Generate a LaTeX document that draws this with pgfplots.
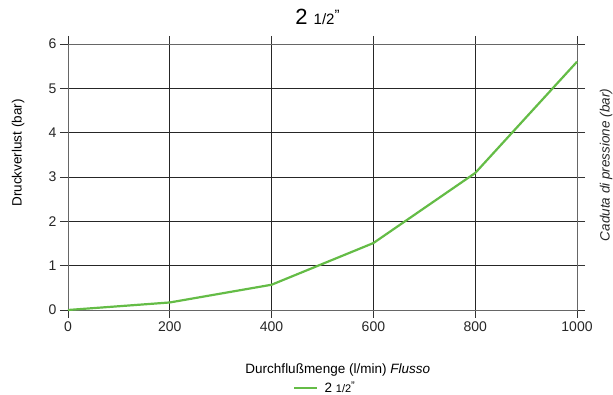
\documentclass[border=0pt]{standalone}
\usepackage{pgfplots}
\pgfplotsset{compat=1.18}
\usepackage{fontspec}
\setmainfont{Liberation Sans}
\definecolor{lgreen}{RGB}{100,188,70}
\begin{document}
\begin{tikzpicture}
\begin{axis}[
  scale only axis,
  width=509pt, height=266pt,
  xmin=0, xmax=1000, ymin=0, ymax=6,
  xtick={0,200,...,1000}, ytick={0,1,...,6},
  /pgf/number format/assume math mode=true,
  /pgf/number format/1000 sep={},
  tick label style={font=\fontsize{14}{16}\selectfont, text=black!85},
  tick align=outside, major tick length=8pt,
  tick style={black!80, line width=0.8pt},
  grid=major, major grid style={black!85, line width=0.8pt},
  axis line style={black!60, line width=0.8pt},
  xlabel={Durchflußmenge (l/min) \textit{Flusso}},
  xlabel style={at={(axis description cs:0.53,-0.225)}, anchor=center, font=\fontsize{13.5}{15}\selectfont},
  ylabel={Druckverlust (bar)},
  ylabel style={at={(axis description cs:-0.098,0.59)}, anchor=center, font=\fontsize{13.5}{15}\selectfont},
  title={\fontsize{22}{24}\selectfont 2 {\fontsize{15}{16}\selectfont 1/2}\raisebox{0.35ex}{\fontsize{15}{16}\selectfont ”}},
  title style={at={(axis description cs:0.49,1.08)}, anchor=center},
  legend style={at={(axis description cs:0.505,-0.293)}, anchor=center, draw=none, fill=none, font=\fontsize{13.5}{15}\selectfont},
  legend image code/.code={\draw[#1, line width=2.5pt] (0pt,0pt) -- (23pt,0pt);},
  clip=false,
]
\addplot[lgreen, line width=2.2pt] coordinates {
(0,0) (200,0.17) (400,0.57) (600,1.51) (800,3.09) (1000,5.6)
};
\addlegendentry{\hspace{4pt}2 {\fontsize{11}{12}\selectfont 1/2}\raisebox{0.3ex}{\fontsize{11}{12}\selectfont "}}
\node[rotate=90, anchor=center, font=\fontsize{13.5}{15}\selectfont\itshape, text=black!85] at (axis description cs:1.057,0.545) {Caduta di pressione (bar)};
\end{axis}
\pgfresetboundingbox
\path[use as bounding box] (-68pt,-85pt) rectangle (545pt,310pt);
\end{tikzpicture}
\end{document}
